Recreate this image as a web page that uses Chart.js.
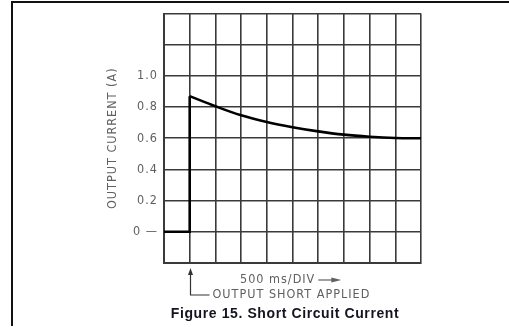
<!DOCTYPE html>
<html>
<head>
<meta charset="utf-8">
<script src="https://cdn.jsdelivr.net/npm/chart.js@4/dist/chart.umd.min.js"></script>
<style>
html,body{margin:0;padding:0;background:#fff;overflow:hidden}
#wrap{position:relative;width:509px;height:327px}
</style>
</head>
<body>
<div id="wrap"><canvas id="chart"></canvas></div>
<script>
// step when the short is applied (divisions, amps)
const stepX = [0, 1, 1];
const stepY = [0, 0, 0.87];
// current decay after the short, one reading per division
const decayX = [1, 2, 3, 4, 5, 6, 7, 8, 9, 10];
const decayY = [0.87, 0.805, 0.747, 0.704, 0.671, 0.644, 0.623, 0.61, 0.602, 0.6];
// y grid lines, and the ones that get a label
const yTicks = [-0.2, 0, 0.2, 0.4, 0.6, 0.8, 1.0, 1.2, 1.4];
const yLabelled = [0, 0.2, 0.4, 0.6, 0.8, 1.0];
const shortAt = 1;
const xNote = '500 ms/DIV';
const shortNote = 'OUTPUT SHORT APPLIED';
const caption = 'Figure 15. Short Circuit Current';

const FONT = "'Liberation Sans Narrow','DejaVu Sans Condensed','DejaVu Sans',sans-serif";
const GRID = '#3a3a3a';
const TEXT = '#606060';
const SPACING = '1px';

const toPts = (xs, ys) => xs.map((x, i) => ({x, y: ys[i]}));

// plotter-style lettering is spread out, apply it to the axis text too
const spacing = {
  id: 'spacing',
  beforeDraw(chart){ chart.ctx.letterSpacing = SPACING; },
  afterDraw(chart){ chart.ctx.letterSpacing = '0px'; }
};

const annot = {
  id: 'annot',
  afterDraw(chart){
    const ctx = chart.ctx;
    const xs = chart.scales.x;
    ctx.save();
    // page frame (top + left rule)
    ctx.strokeStyle = '#111';
    ctx.lineWidth = 2;
    ctx.beginPath();
    ctx.moveTo(509, 2); ctx.lineTo(12, 2); ctx.lineTo(12, 326);
    ctx.stroke();

    // "output short applied" pointer
    const px = Math.round(xs.getPixelForValue(shortAt)) + 0.5;
    const bot = chart.chartArea.bottom;
    ctx.strokeStyle = '#333';
    ctx.fillStyle = '#333';
    ctx.lineWidth = 1.2;
    ctx.beginPath();
    ctx.moveTo(px, bot + 10); ctx.lineTo(px, bot + 32); ctx.lineTo(px + 19, bot + 32);
    ctx.stroke();
    ctx.beginPath();
    ctx.moveTo(px, bot + 5); ctx.lineTo(px - 2.5, bot + 12); ctx.lineTo(px + 2.5, bot + 12);
    ctx.closePath(); ctx.fill();

    ctx.letterSpacing = SPACING;
    ctx.fillStyle = TEXT;
    ctx.font = '12.5px ' + FONT;
    ctx.textBaseline = 'middle';
    ctx.textAlign = 'left';
    ctx.fillText(shortNote, px + 22, bot + 32);

    // time base note with arrow
    ctx.fillText(xNote, 240, bot + 17);
    const w = ctx.measureText(xNote).width;
    const ax = 240 + w + 3;
    ctx.strokeStyle = TEXT; ctx.fillStyle = TEXT;
    ctx.lineWidth = 1.2;
    ctx.beginPath(); ctx.moveTo(ax, bot + 17); ctx.lineTo(ax + 16, bot + 17); ctx.stroke();
    ctx.beginPath();
    ctx.moveTo(ax + 23, bot + 17); ctx.lineTo(ax + 13, bot + 14.5); ctx.lineTo(ax + 13, bot + 19.5);
    ctx.closePath(); ctx.fill();

    // caption
    ctx.letterSpacing = '0.6px';
    ctx.fillStyle = '#14141e';
    ctx.font = "bold 14px 'Liberation Sans',Arial,sans-serif";
    ctx.textAlign = 'center';
    ctx.fillText(caption, 285, 314);
    ctx.restore();
  }
};

new Chart(document.getElementById('chart'), {
  type: 'line',
  data: {
    datasets: [
      {data: toPts(stepX, stepY), borderColor: '#000', borderWidth: 2.6, pointRadius: 0, tension: 0},
      {data: toPts(decayX, decayY), borderColor: '#000', borderWidth: 2.6, pointRadius: 0, tension: 0.35}
    ]
  },
  options: {
    responsive: true,
    maintainAspectRatio: false,
    animation: false,
    layout: {padding: {left: 0, top: 6, right: 88, bottom: 64}},
    plugins: {legend: {display: false}, tooltip: {enabled: false}},
    scales: {
      x: {
        type: 'linear', min: 0, max: 10,
        ticks: {stepSize: 1, display: false},
        grid: {color: GRID, lineWidth: 1.6, drawTicks: false},
        border: {display: true, color: GRID, width: 2},
        afterFit: s => { s.height = 0; }
      },
      y: {
        min: -0.2, max: 1.4,
        afterBuildTicks: s => { s.ticks = yTicks.map(v => ({value: v})); },
        afterFit: s => { s.width = 164; },
        ticks: {
          padding: 6,
          color: TEXT,
          font: {family: FONT, size: 12.5},
          callback: v => {
            const hit = yLabelled.find(t => Math.abs(t - v) < 1e-6);
            if (hit === undefined) return '';
            return hit === 0 ? '0 —' : hit.toFixed(1);
          }
        },
        grid: {color: GRID, lineWidth: 1.6, drawTicks: false},
        border: {display: true, color: GRID, width: 2},
        title: {
          display: true, text: 'OUTPUT CURRENT (A)', color: TEXT,
          font: {family: FONT, size: 12.5}, padding: {top: 105, bottom: 0}
        }
      }
    }
  },
  plugins: [spacing, annot]
});
</script>
</body>
</html>
